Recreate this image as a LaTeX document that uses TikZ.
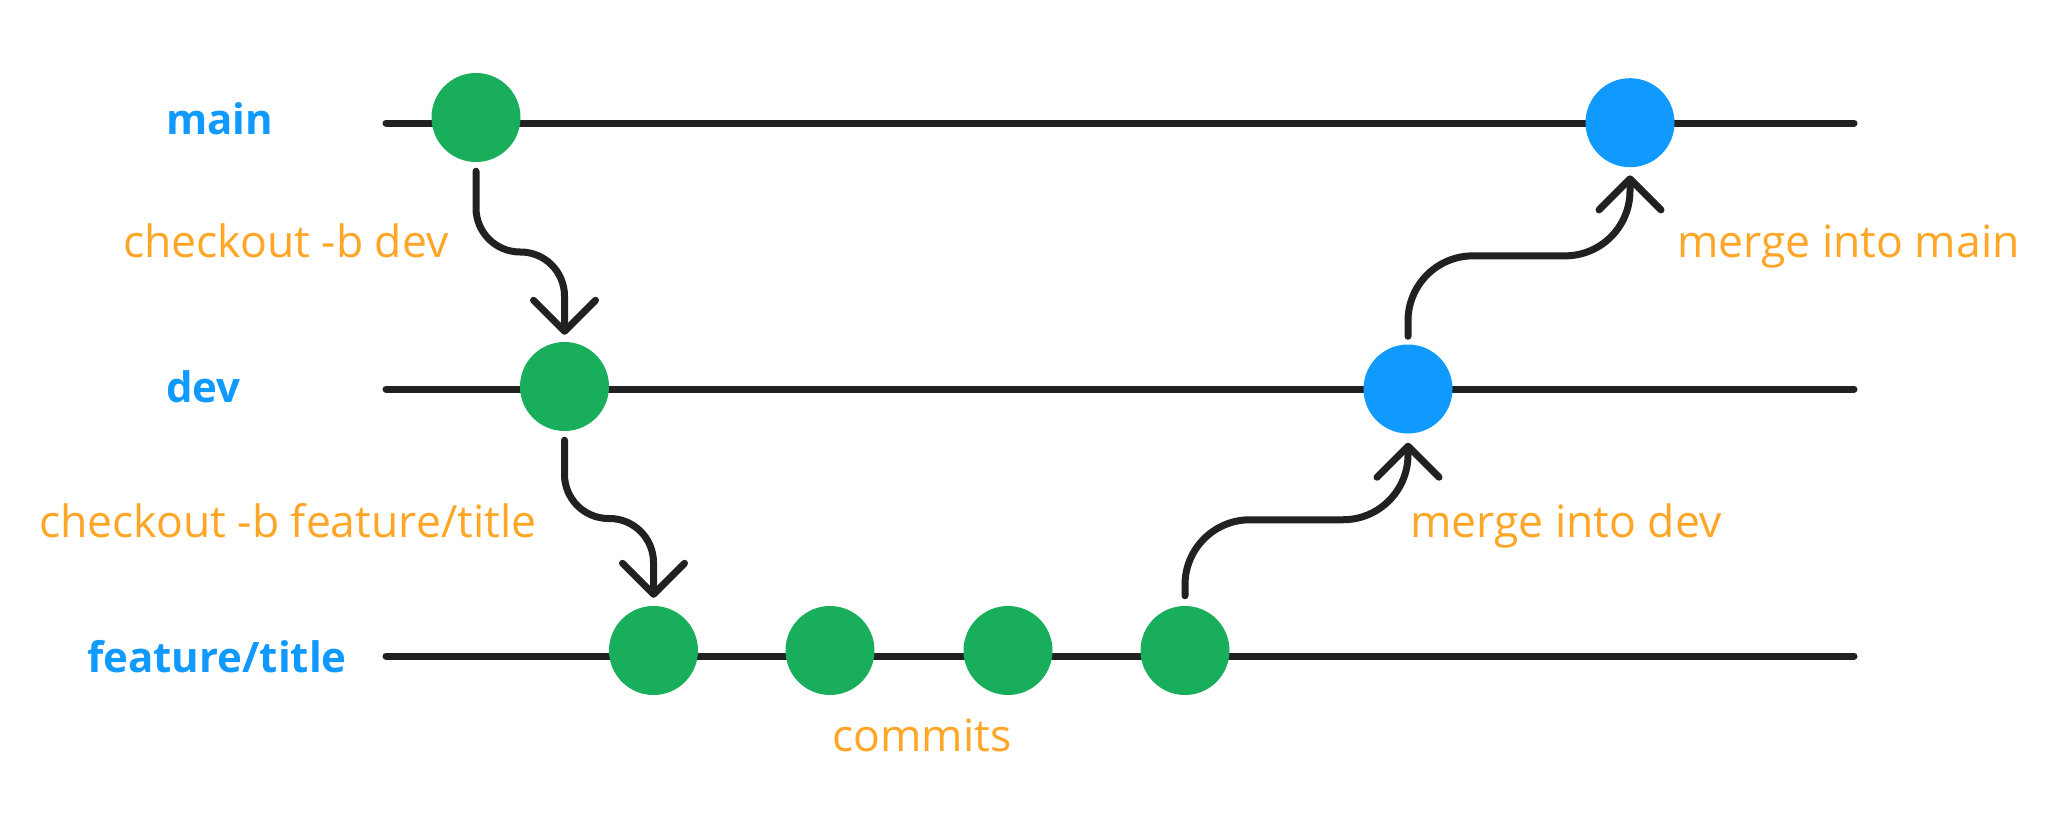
\documentclass[tikz,border=0pt]{standalone}
\usepackage{fontspec}
\setmainfont{Open Sans}
\usetikzlibrary{arrows.meta,calc}
\definecolor{gitgreen}{RGB}{24,174,92}
\definecolor{gitblue}{RGB}{16,153,255}
\definecolor{gitorange}{RGB}{255,166,38}
\definecolor{gitdark}{RGB}{33,33,33}
\tikzset{
  branchline/.style={draw=gitdark,line width=7pt,line cap=round},
  commitg/.style={circle,fill=gitgreen,minimum size=89pt,inner sep=0pt},
  commitb/.style={circle,fill=gitblue,minimum size=89pt,inner sep=0pt},
  conn/.style={draw=gitdark,line width=7pt,line cap=round,line join=round,
    -{Straight Barb[length=31pt,width=62pt,round]}},
  branchlabel/.style={anchor=base west,inner sep=0pt,text=gitblue,font=\fontsize{42}{50}\selectfont\bfseries},
  actlabel/.style={anchor=base west,inner sep=0pt,text=gitorange,font=\fontsize{44.5}{52}\selectfont},
}
\begin{document}
\begin{tikzpicture}[x=1pt,y=-1pt]
\useasboundingbox[fill=white] (0,0) rectangle (2065,816);
% branch lines
\coordinate (mainL) at (386,123); \coordinate (mainR) at (1854,123);
\coordinate (devL) at (386,389); \coordinate (devR) at (1854,389);
\coordinate (featL) at (386,656); \coordinate (featR) at (1854,656);
\draw[branchline] (mainL) -- (mainR);
\draw[branchline] (devL) -- (devR);
\draw[branchline] (featL) -- (featR);
% commits
\node[commitg] (m1) at (476,117.5) {};
\node[commitb] (m2) at (1630,122.7) {};
\node[commitg] (d1) at (564.5,386.5) {};
\node[commitb] (d2) at (1408,389) {};
\node[commitg] (f1) at (653.5,650.5) {};
\node[commitg] (f2) at (830,650.5) {};
\node[commitg] (f3) at (1008,650.5) {};
\node[commitg] (f4) at (1185,650.5) {};
% labels
\node[branchlabel] (lmain) at (166,134) {main};
\node[branchlabel] (ldev) at (166,402.7) {dev};
\node[branchlabel] (lfeat) at (87,672) {feature/title};
\node[actlabel] (a1) at (123,257) {checkout -b dev};
\node[actlabel] (a2) at (39,537) {checkout -b feature/title};
\node[actlabel] (a3) at (1677,257) {merge into main};
\node[actlabel] (a4) at (1410,537) {merge into dev};
\node[actlabel] (a5) at (832,751) {commits};
% connectors
\coordinate (k1) at ($(m1.south)!0.5!(d1.north)$);
\draw[conn,rounded corners=44pt] ($(m1.south)+(0,9)$) |- (d1 |- k1) -- ($(d1.north)+(0,-7)$);
\coordinate (k2) at ($(d1.south)!0.5!(f1.north)$);
\draw[conn,rounded corners=44pt] ($(d1.south)+(0,9)$) |- (f1 |- k2) -- ($(f1.north)+(0,-8)$);
\coordinate (k3) at ($(f4.north)!0.5!(d2.south)$);
\draw[conn,rounded corners=65pt] ($(f4.north)+(0,-10)$) |- (d2 |- k3) -- ($(d2.south)+(0,9)$);
\coordinate (k4) at ($(d2.north)!0.5!(m2.south)$);
\draw[conn,rounded corners=65pt] ($(d2.north)+(0,-8)$) |- (m2 |- k4) -- ($(m2.south)+(0,8)$);
\end{tikzpicture}
\end{document}
